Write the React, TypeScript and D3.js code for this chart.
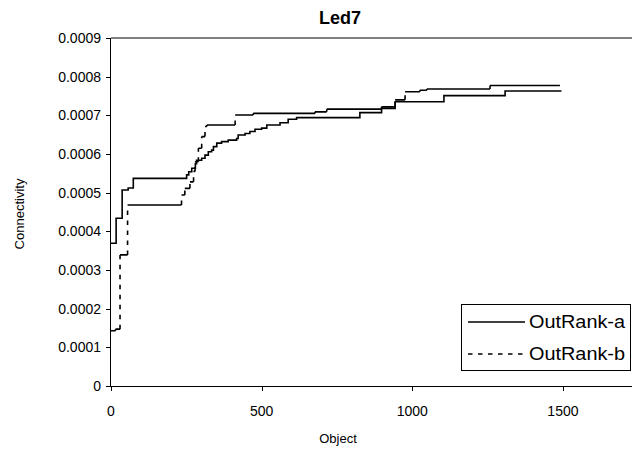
import React from 'react';
import * as d3 from 'd3';

// OutRank-a (solid): step breakpoints [object index, connectivity]
const objectsA = [0, 17, 37, 57, 74, 251, 258, 268, 280, 284, 301, 312, 323, 334, 340, 351, 367, 389, 417, 422, 445, 461, 478, 500, 517, 561, 588, 616, 826, 898, 943, 1105, 1308, 1495];
const valuesA = [0.000369, 0.000434, 0.000507, 0.000512, 0.000537, 0.000546, 0.000554, 0.000563, 0.000575, 0.000584, 0.000589, 0.000597, 0.000606, 0.00061, 0.000619, 0.000628, 0.000632, 0.000636, 0.00064, 0.000649, 0.000653, 0.000658, 0.000664, 0.000667, 0.000675, 0.000681, 0.00069, 0.000694, 0.000707, 0.000718, 0.000735, 0.000751, 0.000763, 0.000763];

// OutRank-b (dashed)
const objectsB = [0, 15, 30, 55, 234, 245, 262, 274, 279, 290, 301, 312, 318, 412, 472, 677, 716, 898, 943, 976, 1025, 1048, 1258, 1490];
const valuesB = [0.000143, 0.000147, 0.000339, 0.000468, 0.000494, 0.000511, 0.000528, 0.000555, 0.00058, 0.000615, 0.000645, 0.000671, 0.000675, 0.000701, 0.000705, 0.000709, 0.000716, 0.000722, 0.00074, 0.000761, 0.000765, 0.000768, 0.000777, 0.000777];

const yTicks = [0, 0.0001, 0.0002, 0.0003, 0.0004, 0.0005, 0.0006, 0.0007, 0.0008, 0.0009];
const xTicks = [0, 500, 1000, 1500];
const seriesNames = ['OutRank-a', 'OutRank-b'];
const title = 'Led7';
const xTitle = 'Object';
const yTitle = 'Connectivity';

const FONT = '"Liberation Sans", Arial, sans-serif';
const DASH = '4.5,5.5';

export default function App() {
  const W = 632, H = 457;
  const left = 111, top = 38, bottom = 386;
  const x = d3.scaleLinear().domain([0, 2000]).range([left, left + 2000 * 0.3013]);
  const y = d3.scaleLinear().domain([0, 0.0009]).range([bottom, top]);

  const dataA: [number, number][] = objectsA.map((o, i) => [o, valuesA[i]]);
  const dataB: [number, number][] = objectsB.map((o, i) => [o, valuesB[i]]);

  const stepLine = d3.line<[number, number]>().x(d => x(d[0])).y(d => y(d[1])).curve(d3.curveStepAfter);
  const seg = d3.line<[number, number]>().x(d => x(d[0])).y(d => y(d[1]));

  // for the dashed series, horizontal runs render solid and the jumps dashed
  const horizB = dataB.slice(0, -1).map((d, i) => seg([[d[0], d[1]], [dataB[i + 1][0], d[1]]])).join('');
  const vertB = dataB.slice(0, -1).map((d, i) => seg([[dataB[i + 1][0], d[1]], [dataB[i + 1][0], dataB[i + 1][1]]])).join('');

  const fmt = (v: number) => (v === 0 ? '0' : v.toFixed(4));

  return (
    <svg width={W} height={H} style={{ position: 'absolute', left: 0, top: 0, background: '#fff' }} fontFamily={FONT}>
      <rect x={0} y={0} width={W} height={H} fill="#fff" />
      <text x={340} y={24} textAnchor="middle" fontSize={18} fontWeight="bold">{title}</text>

      {/* plot border (top) */}
      <line x1={left} x2={W} y1={top} y2={top} stroke="#000" strokeWidth={1} />

      {/* y axis */}
      <line x1={left - 0.5} x2={left - 0.5} y1={top} y2={bottom} stroke="#000" strokeWidth={1} />
      {yTicks.map(t => (
        <g key={t}>
          <line x1={left - 5} x2={left} y1={Math.round(y(t)) + 0.5} y2={Math.round(y(t)) + 0.5} stroke="#000" />
          <text x={101} y={y(t)} dy="0.35em" textAnchor="end" fontSize={14}>{fmt(t)}</text>
        </g>
      ))}

      {/* x axis */}
      <line x1={left} x2={W} y1={bottom + 0.5} y2={bottom + 0.5} stroke="#000" strokeWidth={1} />
      {xTicks.map(t => (
        <g key={t}>
          <line x1={Math.round(x(t)) + 0.5} x2={Math.round(x(t)) + 0.5} y1={bottom} y2={bottom + 5} stroke="#000" />
          <text x={x(t)} y={416} textAnchor="middle" fontSize={14}>{t}</text>
        </g>
      ))}

      <text x={338} y={443} textAnchor="middle" fontSize={13}>{xTitle}</text>
      <text transform={`translate(24,214) rotate(-90)`} textAnchor="middle" fontSize={13}>{yTitle}</text>

      {/* series */}
      <path d={stepLine(dataA) || ''} fill="none" stroke="#000" strokeWidth={1.6} />
      <path d={horizB} fill="none" stroke="#000" strokeWidth={1.6} />
      <path d={vertB} fill="none" stroke="#000" strokeWidth={1.6} strokeDasharray={DASH} />

      {/* legend */}
      <rect x={461.5} y={304.5} width={169} height={66} fill="#fff" stroke="#000" strokeWidth={1} />
      <line x1={468} x2={525} y1={322} y2={322} stroke="#000" strokeWidth={1.6} />
      <text x={529} y={322} dy="0.35em" fontSize={17.5} textLength={96} lengthAdjust="spacingAndGlyphs">{seriesNames[0]}</text>
      <line x1={468} x2={525} y1={354} y2={354} stroke="#000" strokeWidth={1.6} strokeDasharray={DASH} />
      <text x={529} y={354} dy="0.35em" fontSize={17.5} textLength={96} lengthAdjust="spacingAndGlyphs">{seriesNames[1]}</text>
    </svg>
  );
}
